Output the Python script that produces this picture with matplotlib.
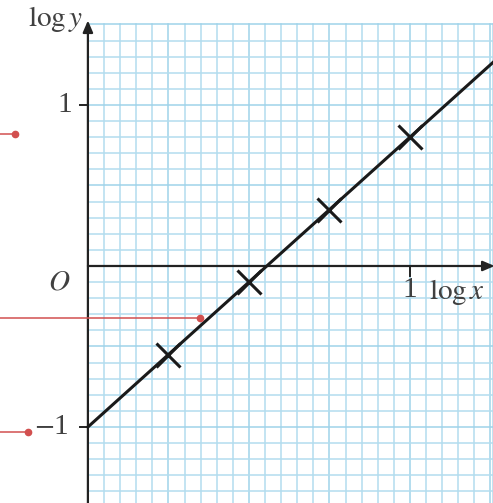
import numpy as np
import matplotlib.pyplot as plt

plt.rcParams['mathtext.fontset'] = 'stix'
plt.rcParams['font.family'] = ['Liberation Serif', 'DejaVu Serif']

# measured points (log x, log y)
log_x = [0.25, 0.5, 0.75, 1.0]
log_y = [-0.55, -0.1, 0.35, 0.8]

# line of best fit, drawn from the intercept to the edge of the grid
fit_x = [0.0, 1.26]
fit_y = [-1.0, 1.268]

# margin pointers: (height, end x)
pointer_y = [0.82, -0.32, -1.03]
pointer_end = [-0.227, 0.348, -0.186]

X_MIN, X_MAX = -0.273, 1.258
Y_MIN, Y_MAX = -1.472, 1.652
GRID_TOP = 1.5

fig = plt.figure(figsize=(4.93, 5.03), dpi=100)
ax = fig.add_axes([0, 0, 1, 1])
ax.set_xlim(X_MIN, X_MAX)
ax.set_ylim(Y_MIN, Y_MAX)
ax.axis('off')

# graph paper
minor_c = '#b3ddef'
major_c = '#9fd3ea'
xs = np.arange(0, 1.2501, 0.05)
ys = np.arange(-1.5, 1.5001, 0.1)
for i, gx in enumerate(xs):
    major = i % 5 == 0
    ax.plot([gx, gx], [Y_MIN, GRID_TOP], color=major_c if major else minor_c,
            lw=1.1, zorder=1)
ax.plot([X_MAX, X_MAX], [Y_MIN, GRID_TOP], color=minor_c, lw=1.1, zorder=1)
for j, gy in enumerate(ys):
    major = j % 5 == 0
    ax.plot([0, X_MAX], [gy, gy], color=major_c if major else minor_c,
            lw=1.1, zorder=1)

# axes with arrowheads
ax.annotate('', xy=(1.263, 0), xytext=(0, 0),
            arrowprops=dict(arrowstyle='-|>,head_length=0.7,head_width=0.3',
                            color='#222222', lw=1.6, shrinkA=0, shrinkB=0),
            zorder=3, annotation_clip=False)
ax.annotate('', xy=(0, 1.525), xytext=(0, Y_MIN - 0.05),
            arrowprops=dict(arrowstyle='-|>,head_length=0.7,head_width=0.3',
                            color='#222222', lw=1.6, shrinkA=0, shrinkB=0),
            zorder=3, annotation_clip=False)

# ticks
for ty in [1, -1]:
    ax.plot([-0.025, 0], [ty, ty], color='#222222', lw=1.4, zorder=3)
ax.plot([1, 1], [0, -0.06], color='#222222', lw=1.4, zorder=3)

# fitted line and crosses
ax.plot(fit_x, fit_y, color='#1a1a1a', lw=2.2, zorder=4)
ax.plot(log_x, log_y, linestyle='none', marker='x', markersize=17,
        markeredgewidth=2.2, color='#1a1a1a', zorder=5)

# red pointers from the margin
red = '#d2504f'
for py, pe in zip(pointer_y, pointer_end):
    ax.plot([X_MIN, pe], [py, py], color=red, lw=1.1, zorder=6, clip_on=False)
    ax.plot(pe, py, 'o', color=red, markersize=4.5, zorder=6)

# labels
tc = '#404040'
fs = 21
ax.text(-0.05, 1.0, '1', ha='right', va='center', fontsize=fs, color=tc)
ax.text(-0.06, -1.0, '$-$1', ha='right', va='center', fontsize=fs, color=tc)
ax.text(-0.055, -0.1, '$O$', ha='right', va='center', fontsize=fs, color=tc)
ax.text(1.0, -0.15, '1', ha='center', va='center', fontsize=fs, color=tc)
ax.text(1.06, -0.16, r'$\mathrm{log}\,x$', ha='left', va='center', fontsize=fs, color=tc)
ax.text(-0.015, 1.535, r'$\mathrm{log}\,y$', ha='right', va='center', fontsize=fs, color=tc)

fig.savefig('out.png', dpi=100, facecolor='white')
